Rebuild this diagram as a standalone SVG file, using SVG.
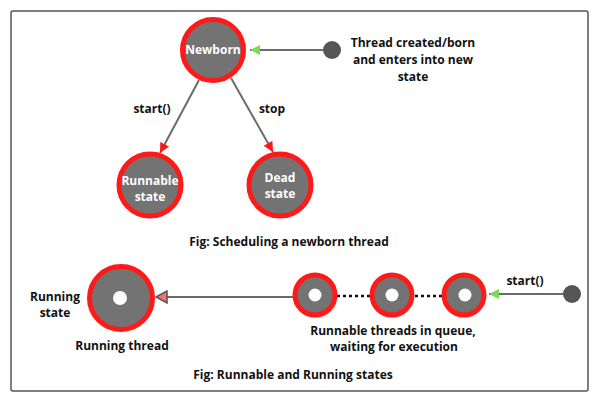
<svg xmlns="http://www.w3.org/2000/svg" width="600" height="400" viewBox="0 0 600 400">
<style>
text{font-family:"Open Sans","Liberation Sans",sans-serif;font-weight:bold;font-size:12px;fill:#111;text-anchor:middle}
.w{fill:#fff}
.st{fill:#737373;stroke:#ff1a1a;stroke-width:5}
.dot{fill:#555}
.ln{stroke:#6b6b6b;stroke-width:2;fill:none}
.hole{fill:#fff}
</style>
<defs>
<marker id="red" viewBox="0 0 10 10" refX="10" refY="5" markerWidth="5" markerHeight="5" orient="auto" markerUnits="strokeWidth">
<path d="M0,0 L10,5 L0,10 Z" fill="#ff1616"/>
</marker>
<marker id="green" viewBox="0 0 10 10" refX="10" refY="5" markerWidth="5" markerHeight="5" orient="auto" markerUnits="strokeWidth">
<path d="M0,0 L10,5 L0,10 Z" fill="#7ed957"/>
</marker>
</defs>
<rect x="11" y="11" width="577" height="380" rx="2" fill="#fff" stroke="#555" stroke-width="1.5"/>
<g id="connectors">
<line class="ln" x1="323" y1="50" x2="250" y2="50" marker-end="url(#green)"/>
<line class="ln" x1="199" y1="80" x2="160" y2="153" marker-end="url(#red)"/>
<line class="ln" x1="231" y1="78" x2="273" y2="152" marker-end="url(#red)"/>
<line class="ln" x1="293" y1="297" x2="167" y2="297"/>
<path d="M156,297 L167,291 L167,303 Z" fill="#f87171" stroke="#555" stroke-width="1.5"/>
<line x1="337" y1="296" x2="370" y2="296" stroke="#111" stroke-width="2.5" stroke-dasharray="3,3"/>
<line x1="415" y1="296" x2="443" y2="296" stroke="#111" stroke-width="2.5" stroke-dasharray="3,3"/>
<line class="ln" x1="564" y1="294" x2="489" y2="294" marker-end="url(#green)"/>
</g>
<g id="newborn">
<circle class="st" cx="213" cy="50" r="30.5"/>
<text class="w" x="213" y="54">Newborn</text>
</g>
<g id="start-dot">
<circle class="dot" cx="332" cy="50" r="9"/>
<text x="413" y="47">Thread created/born</text>
<text x="413" y="64">and enters into new</text>
<text x="413" y="81">state</text>
</g>
<g id="runnable">
<circle class="st" cx="150" cy="185" r="31"/>
<text class="w" x="150" y="185">Runnable</text>
<text class="w" x="150" y="201">state</text>
</g>
<g id="dead">
<circle class="st" cx="280" cy="185" r="31"/>
<text class="w" x="280" y="182">Dead</text>
<text class="w" x="280" y="198">state</text>
</g>
<g id="labels1">
<text x="152" y="113">start()</text>
<text x="272" y="113">stop</text>
<text x="289" y="246">Fig: Scheduling a newborn thread</text>
</g>
<g id="running">
<circle class="st" cx="121" cy="298" r="31.5"/>
<circle class="hole" cx="120" cy="298" r="7"/>
<text x="55" y="301">Running</text>
<text x="55" y="317">state</text>
<text x="122" y="350">Running thread</text>
</g>
<g id="queue1">
<circle class="st" cx="315" cy="295" r="20"/>
<circle class="hole" cx="315" cy="295" r="6.5"/>
</g>
<g id="queue2">
<circle class="st" cx="392" cy="295" r="20"/>
<circle class="hole" cx="392" cy="295" r="6.5"/>
</g>
<g id="queue3">
<circle class="st" cx="464" cy="295" r="20"/>
<circle class="hole" cx="465" cy="295" r="6.5"/>
</g>
<g id="start-dot2">
<circle class="dot" cx="572" cy="294" r="9"/>
<text x="525" y="285">start()</text>
</g>
<g id="labels2">
<text x="393" y="335">Runnable threads in queue,</text>
<text x="394" y="351">waiting for execution</text>
<text x="293" y="379">Fig: Runnable and Running states</text>
</g>
</svg>
